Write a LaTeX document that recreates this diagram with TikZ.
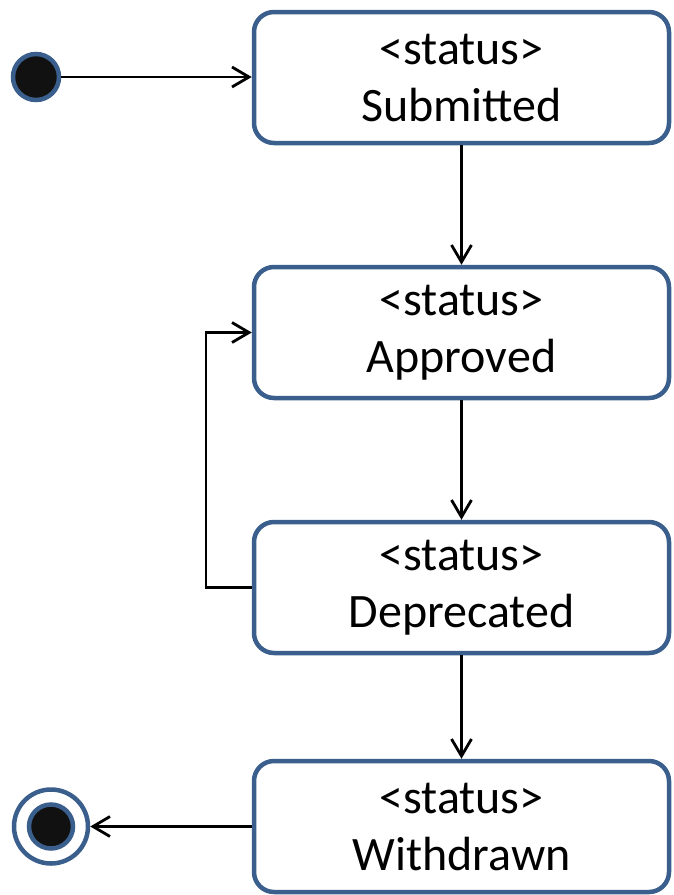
\documentclass[tikz,border=0pt]{standalone}
\usepackage{fontspec}
\setmainfont{Carlito}
\usetikzlibrary{arrows.meta}
\definecolor{umlblue}{HTML}{3A5F8D}
\definecolor{dot}{HTML}{111111}
\tikzset{
  state/.style={draw=umlblue, line width=4.5pt, rounded corners=20pt, fill=white,
    minimum width=415pt, minimum height=131pt, align=center,
    font=\fontsize{48}{57}\selectfont, inner sep=0pt},
  flow/.style={line width=2.5pt, -{Straight Barb[length=17pt,width=20pt,line width=2.8pt]}},
}
\begin{document}
\begin{tikzpicture}[x=1pt,y=-1pt]
  \useasboundingbox (0,0) rectangle (673,895);
  % states
  \node[state] (sub) at (461.5,77.5) {<status>\\Submitted};
  \node[state] (app) at (461.5,332.5) {<status>\\Approved};
  \node[state] (dep) at (461.5,587.5) {<status>\\Deprecated};
  \node[state] (wd)  at (461.5,826.5) {<status>\\Withdrawn};
  % initial and final pseudo-states
  \node[circle, draw=umlblue, line width=4.5pt, fill=dot, minimum size=46pt, inner sep=0pt] (init) at (36,77) {};
  \node[circle, draw=umlblue, line width=4.5pt, fill=white, minimum size=74pt, inner sep=0pt] (final) at (51,826.5) {};
  \node[circle, draw=umlblue, line width=4.5pt, fill=dot, minimum size=44pt, inner sep=0pt] (finalin) at (51,826.5) {};
  % transitions
  \draw[flow] (init.east) -- (sub.west |- init.east);
  \draw[flow] (sub.south) -- (app.north);
  \draw[flow] (app.south) -- (dep.north);
  \draw[flow] (dep.south) -- (wd.north);
  \coordinate (lb) at (206,587.5);
  \coordinate (lt) at (206,332.5);
  \draw[flow, line join=miter] (dep.west) -- (lb) -- (lt) -- (app.west);
  \draw[flow] (wd.west) -- (final.east);
\end{tikzpicture}
\end{document}
